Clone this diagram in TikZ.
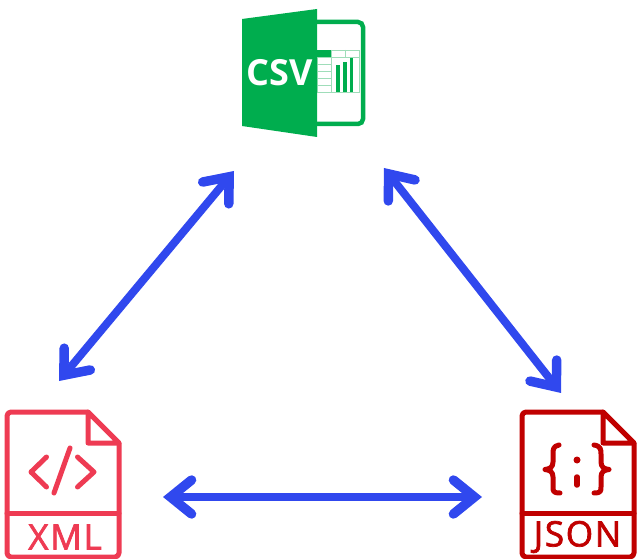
\documentclass[tikz,border=0pt]{standalone}
\usepackage{fontspec}
\setmainfont{Open Sans}
\usepackage{tkz-euclide}
\usetikzlibrary{calc}
\usetikzlibrary{arrows.meta}

\definecolor{csvgreen}{HTML}{00AD4E}
\definecolor{csvlight}{HTML}{9FDDB9}
\definecolor{xmlred}{HTML}{EE3B53}
\definecolor{jsonred}{HTML}{C00000}
\definecolor{linkblue}{HTML}{3048EE}

\tikzset{
  link/.style={linkblue, line width=8pt, {Straight Barb[length=21pt,width=34pt,line width=9.5pt,line cap=round,line join=miter]}-{Straight Barb[length=21pt,width=34pt,line width=9.5pt,line cap=round,line join=miter]}},
  outline/.style={line width=5pt, line join=round, line cap=round},
  filename/.style={inner sep=0pt, font=\fontsize{35}{35}\selectfont\addfontfeatures{FakeBold=2,LetterSpace=5}, anchor=center},
  grid/.style={csvlight, line width=0.8pt}
}

\begin{document}
\begin{tikzpicture}[%
  x=1pt,y=1pt
]

  \useasboundingbox (0,0) rectangle (641,-559);

  % link ends
  \tkzDefPoint(234,-171){csvL}
  \tkzDefPoint(59,-381){xmlT}
  \tkzDefPoint(384,-168){csvR}
  \tkzDefPoint(561,-393){jsonT}
  \tkzDefPoint(163,-497){xmlR}
  \tkzDefPoint(482,-497){jsonL}

  \tkzDrawSegments[link](csvL,xmlT csvR,jsonT xmlR,jsonL)

  % csv
  \tkzDefPoint(242,-19){A}
  \tkzDefPoint(317,-9){B}
  \tkzDefPoint(317,-137){C}
  \tkzDefPoint(242,-126){D}

  \draw[csvgreen,line width=4.5pt,rounded corners=5pt] (315,-22) -- (363,-22) -- (363,-124) -- (315,-124);
  \draw[grid] (317,-50) rectangle (359,-92);
  \foreach \y in {-57,-64,-71,-78,-85}
    \draw[grid] (317,\y) -- (331,\y);
  \draw[grid] (331,-57) -- (359,-57);
  \draw[grid] (331,-50) -- (331,-92);
  \draw[grid] (345,-50) -- (345,-57);
  \fill[csvgreen] (317,-50) rectangle (331,-57);
  \fill[csvgreen] (336,-65) rectangle (339.5,-92);
  \fill[csvgreen] (342.5,-62) rectangle (346.5,-92);
  \fill[csvgreen] (349.5,-58) rectangle (353,-92);

  \tkzFillPolygon[color=csvgreen](A,B,C,D)
  \node[font=\bfseries\fontsize{36}{36}\selectfont,text=white,inner sep=0pt] (csv) at (279.5,-73) {CSV};

  % xml
  \tkzDefPoint(88,-412){xa}
  \tkzDefPoint(119,-443){xb}
  \tkzDefPoint(88,-443){xc}
  \tkzDefPoint(7,-513){xd}
  \tkzDefPoint(119,-513){xe}

  \draw[xmlred,outline,rounded corners=4pt] (xb) -- (119,-557) -- (7,-557) -- (7,-412) -- (xa);
  \draw[xmlred,outline] (xa) -- (xb) -- (xc) -- cycle;
  \draw[xmlred,outline] (xd) -- (xe);
  \draw[xmlred,outline] (46.5,-457) -- (31,-472) -- (46.5,-487);
  \draw[xmlred,outline] (70,-448) -- (54,-493);
  \draw[xmlred,outline] (77.5,-457) -- (94,-472) -- (77.5,-487);
  \node[filename,text=xmlred] (xml) at (65,-537) {XML};

  % json
  \tkzDefPoint(603,-412){ja}
  \tkzDefPoint(634,-443){jb}
  \tkzDefPoint(603,-443){jc}
  \tkzDefPoint(522,-513){jd}
  \tkzDefPoint(634,-513){je}

  \draw[jsonred,outline,rounded corners=4pt] (jb) -- (634,-557) -- (522,-557) -- (522,-412) -- (ja);
  \draw[jsonred,outline] (ja) -- (jb) -- (jc) -- cycle;
  \draw[jsonred,outline] (jd) -- (je);
  \draw[jsonred,outline] (559,-445) .. controls (553,-446) and (553,-450) .. (553,-454) -- (553,-462) .. controls (553,-467) and (550,-469) .. (545,-469.5) .. controls (550,-470) and (553,-472) .. (553,-477) -- (553,-487) .. controls (553,-491) and (553,-493) .. (560,-493);
  \draw[jsonred,outline] (594,-445) .. controls (601,-446) and (601,-450) .. (601,-454) -- (601,-462) .. controls (601,-467) and (604,-469) .. (609,-469.5) .. controls (604,-470) and (601,-472) .. (601,-477) -- (601,-487) .. controls (601,-491) and (601,-493) .. (594,-493);
  \fill[jsonred] (577,-460) circle (3.5);
  \draw[jsonred,line width=5.5pt,line cap=round] (577,-477) -- (577,-485);
  \node[filename,text=jsonred] (json) at (577.5,-537) {JSON};

\end{tikzpicture}
\end{document}
